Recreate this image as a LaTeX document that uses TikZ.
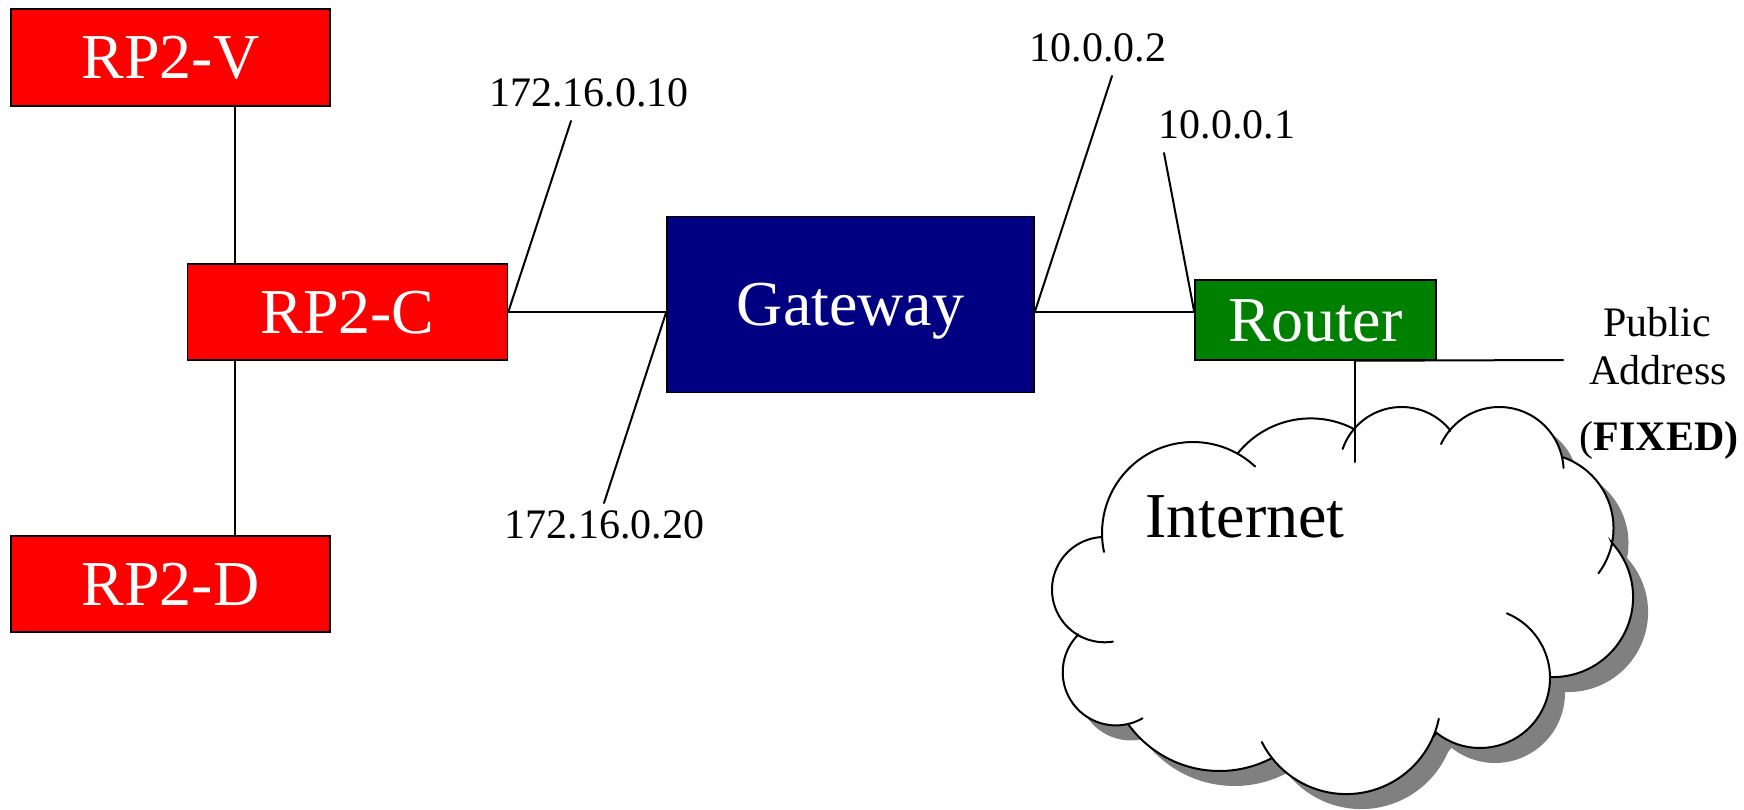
\documentclass[tikz,border=0pt]{standalone}
\usepackage{fontspec}
\setmainfont{Liberation Serif}
\definecolor{hostred}{HTML}{FF0000}
\definecolor{gatenavy}{HTML}{000080}
\definecolor{routegreen}{HTML}{008000}
\definecolor{shadowgray}{HTML}{808080}

\tikzset{
  host/.style={draw=black, line width=1.5pt, text=white, inner sep=0pt,
    font=\fontsize{64}{64}\selectfont, text height=42pt, text depth=0pt},
  addr/.style={font=\fontsize{42}{42}\selectfont, inner sep=0pt, anchor=base},
  wire/.style={line width=2pt, line cap=round},
  puff/.style={line width=2pt, line cap=round},
  arcplot/.style={domain=#1, samples=36, variable=\t},
}

% outline of the Internet cloud: eleven circular puffs, clockwise
\newcommand\cloudoutline{%
  plot[arcplot=177.5:299.4] ({1193+91*cos(\t)},{533+91*sin(\t)})
  -- plot[arcplot=219.1:297.6] ({1310.7+93.6*cos(\t)},{512+93.6*sin(\t)})
  -- plot[arcplot=220.3:320.9] ({1401.6+62.4*cos(\t)},{469.4+62.4*sin(\t)})
  -- plot[arcplot=220:347.2] ({1499.3+64.3*cos(\t)},{471.3+64.3*sin(\t)})
  -- plot[arcplot=288.3:371.4] ({1538.5+75*cos(\t)},{528.2+75*sin(\t)})
  -- plot[arcplot=-42.6:92.2] ({1553.1+80*cos(\t)},{597.1+80*sin(\t)})
  -- plot[arcplot=-0.8:128.5] ({1480+70*cos(\t)},{678+70*sin(\t)})
  -- plot[arcplot=23.3:141.8] ({1346.25+94.5*cos(\t)},{699.6+94.5*sin(\t)})
  -- plot[arcplot=62.2:144.4] ({1219.5+112.5*cos(\t)},{658.5+112.5*sin(\t)})
  -- plot[arcplot=76.9:224.5] ({1115.9+53.2*cos(\t)},{672.2+53.2*sin(\t)})
  -- plot[arcplot=120.4:267.1] ({1104.65+52.66*cos(\t)},{589.6+52.66*sin(\t)})
  -- cycle}

\begin{document}
\begin{tikzpicture}[x=1pt, y=-1pt]
\useasboundingbox (0,0) rectangle (1744,810);

% Internet cloud: drop shadow, body, outline and inner puff ends
\begin{scope}[shift={(15,15)}]
  \fill[shadowgray] \cloudoutline;
\end{scope}
\filldraw[fill=white, puff, line join=miter] \cloudoutline;
\draw[puff] plot[arcplot=168:177.5] ({1193+91*cos(\t)},{533+91*sin(\t)});
\draw[puff] plot[arcplot=299.4:313] ({1193+91*cos(\t)},{533+91*sin(\t)});
\draw[puff] plot[arcplot=199:220.3] ({1401.6+62.4*cos(\t)},{469.4+62.4*sin(\t)});
\draw[puff] plot[arcplot=205:220] ({1499.3+64.3*cos(\t)},{471.3+64.3*sin(\t)});
\draw[puff] plot[arcplot=347.2:357] ({1499.3+64.3*cos(\t)},{471.3+64.3*sin(\t)});
\draw[puff] plot[arcplot=371.4:397] ({1538.5+75*cos(\t)},{528.2+75*sin(\t)});
\draw[puff] plot[arcplot=-67.4:-0.8] ({1480+70*cos(\t)},{678+70*sin(\t)});
\draw[puff] plot[arcplot=11.7:23.3] ({1346.25+94.5*cos(\t)},{699.6+94.5*sin(\t)});
\draw[puff] plot[arcplot=141.8:153.3] ({1346.25+94.5*cos(\t)},{699.6+94.5*sin(\t)});
\draw[puff] plot[arcplot=60:76.9] ({1115.9+53.2*cos(\t)},{672.2+53.2*sin(\t)});
\draw[puff] plot[arcplot=81:120.4] ({1104.65+52.66*cos(\t)},{589.6+52.66*sin(\t)});
\node[font=\fontsize{64}{64}\selectfont, inner sep=0pt, anchor=base] (internet) at (1245,537) {Internet};

% hosts
\node[host, fill=hostred, minimum width=319pt, minimum height=97pt] (rpv) at (170.5,57.5) {RP2-V};
\node[host, fill=hostred, minimum width=320pt, minimum height=96pt] (rpc) at (347.5,312) {RP2-C};
\node[host, fill=hostred, minimum width=319pt, minimum height=96pt] (rpd) at (170.5,584) {RP2-D};
\node[host, fill=gatenavy, minimum width=367pt, minimum height=176pt] (gw) at (850.5,304.5) {Gateway};
\node[host, fill=routegreen, minimum width=241pt, minimum height=80pt] (rt) at (1315.5,320) {Router};

% local bus
\coordinate (bus) at (235,0);
\draw[wire] (rpv.south -| bus) -- (rpc.north -| bus);
\draw[wire] (rpc.south -| bus) -- (rpd.north -| bus);

% links
\draw[wire] (rpc.east) -- (rpc.east -| gw.west);
\coordinate (gwin) at (gw.west |- rpc.east);
\coordinate (gwout) at (gw.east |- rpc.east);
\coordinate (rtin) at (rt.west |- rpc.east);
\draw[wire] (gwout) -- (rtin);

% address labels and their leaders
\node[addr] (a10) at (589,107) {172.16.0.10};
\node[addr] (a20) at (604.5,538) {172.16.0.20};
\node[addr] (b2) at (1098,62) {10.0.0.2};
\node[addr] (b1) at (1227,139) {10.0.0.1};
\coordinate (a10tip) at (571,121);
\coordinate (a20tip) at (604,503);
\coordinate (b2tip) at (1112,76);
\coordinate (b1tip) at (1164,153);
\draw[wire] (a10tip) -- (rpc.east);
\draw[wire] (a20tip) -- (gwin);
\draw[wire] (b2tip) -- (gwout);
\draw[wire] (b1tip) -- (rtin);

% public side of the router
\coordinate (drop) at (1355,0);
\coordinate (dropend) at (1355,462);
\coordinate (pubend) at (1563,360);
\draw[wire] (rt.south -| drop) -- (dropend);
\draw[wire] (rt.south -| drop) -- (pubend);
\node[addr] (pub1) at (1657,336) {Public};
\node[addr] (pub2) at (1658,384) {Address};
\node[addr] (pub3) at (1659,450) {(\textbf{FIXED)}};
\end{tikzpicture}
\end{document}
